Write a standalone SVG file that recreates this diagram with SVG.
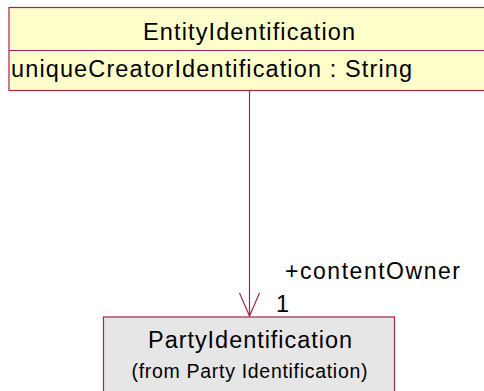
<svg xmlns="http://www.w3.org/2000/svg" width="484" height="391" viewBox="0 0 484 391">
<style>
.box{stroke:#a5244f;stroke-width:1.2}
.t{font-family:"Liberation Sans",Arial,sans-serif;fill:#000}
.conn{stroke:#a5244f;stroke-width:1.2;fill:none}
</style>
<rect width="484" height="391" fill="#fff"/>
<g id="EntityIdentification">
<rect class="box" x="9" y="7.5" width="490" height="83" fill="#ffffcc"/>
<line class="box" x1="9" y1="50.5" x2="499" y2="50.5"/>
<text class="t" x="143" y="39.5" font-size="23.5" textLength="212" lengthAdjust="spacing">EntityIdentification</text>
<text class="t" x="11" y="76.5" font-size="23.5" textLength="401" lengthAdjust="spacing">uniqueCreatorIdentification : String</text>
</g>
<g id="PartyIdentification">
<rect class="box" x="103.5" y="317" width="291" height="90" fill="#e6e6e6"/>
<text class="t" x="148" y="348" font-size="23.5" textLength="204" lengthAdjust="spacing">PartyIdentification</text>
<text class="t" x="131.5" y="378" font-size="19.5" textLength="236" lengthAdjust="spacing">(from Party Identification)</text>
</g>
<g id="connectors">
<line class="conn" x1="249.5" y1="91" x2="249.5" y2="316"/>
<polyline class="conn" points="239.5,293 249.5,316 259.5,293"/>
<text class="t" x="285" y="278.5" font-size="23" textLength="175" lengthAdjust="spacing">+contentOwner</text>
<text class="t" x="276" y="312" font-size="23.5">1</text>
</g>
</svg>
